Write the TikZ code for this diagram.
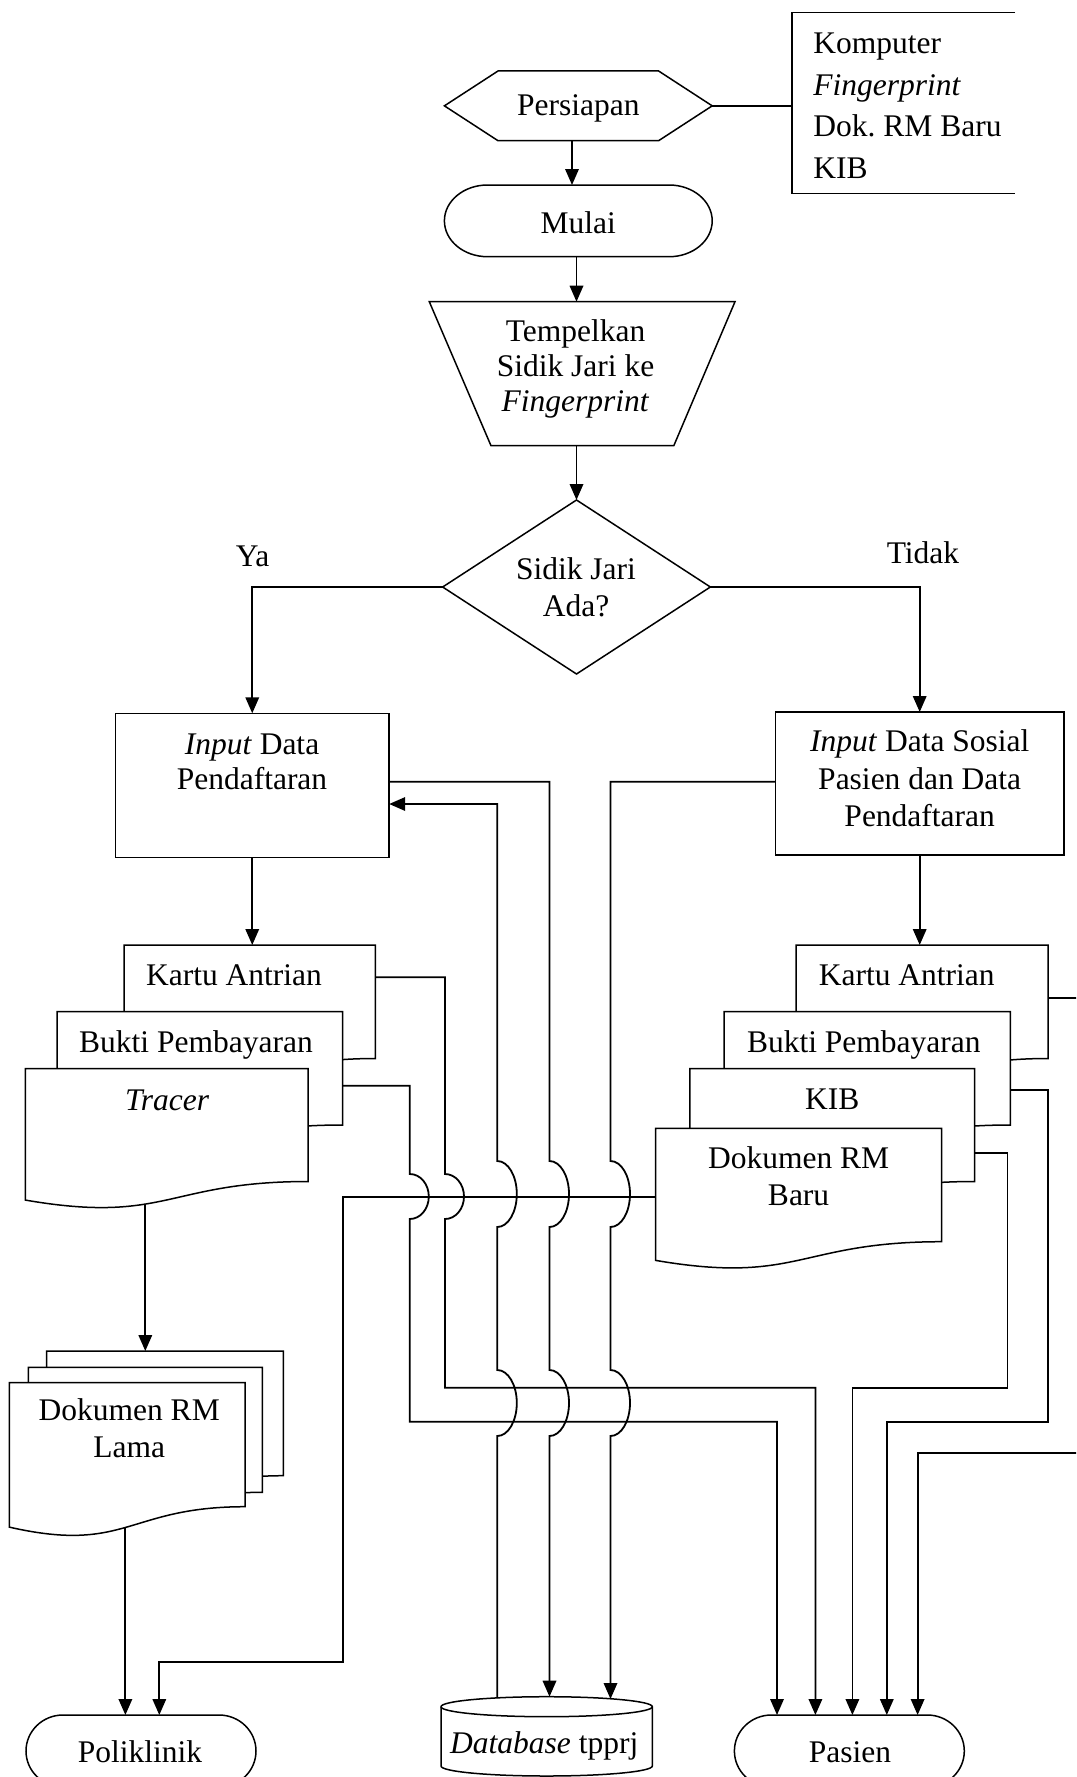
\documentclass[tikz,border=0pt]{standalone}
\usepackage{fontspec}
\setmainfont{Liberation Serif}
\usetikzlibrary{arrows.meta,calc}
\frenchspacing

\tikzset{
  area/.style 2 args={inner sep=0pt, outer sep=0pt, minimum width={#1}, minimum height={#2}},
  shp/.style={draw=black, line width=1.5pt, fill=white, line join=miter},
  link/.style={draw=black, line width=1.5pt},
  arr/.style={link, line width=1.8pt, -{Triangle[length=16pt,width=13.5pt]}},
  rarr/.style={link, line width=1.8pt, {Triangle[length=16pt,width=13.5pt]}-},
  lbl/.style={inner sep=0pt, font=\fontsize{31.5}{36}\selectfont},
  blk/.style={lbl, align=center, anchor=north},
}

% document page: name, left, top, right, bottom at the right edge, pos of the bottom exit point
\newcommand\docpage[6]{%
  \pgfmathsetmacro\dpH{(#5-#3)/0.802}%
  \pgfmathsetmacro\dpM{(#2+#4)/2}%
  \pgfmathsetmacro\dpC{-(#3+1.1075*\dpH)}%
  \pgfmathsetmacro\dpE{-(#3+0.934*\dpH)}%
  \node[area={#4-#2}{#5-#3}] (#1) at (\dpM,{-(#3+#5)/2}) {};
  \draw[shp] (#2,-#3) -- (#4,-#3) -- (#4,-#5)
    .. controls (\dpM,-#5) and (\dpM,\dpC) .. (#2,\dpE) coordinate[pos=#6] (#1-b) -- cycle;
}

% terminator: name, left, top, right, bottom
\newcommand\terminal[5]{%
  \pgfmathsetmacro\tmRx{0.1609*(#4-#2)}%
  \pgfmathsetmacro\tmRy{(#5-#3)/2}%
  \node[area={#4-#2}{#5-#3}] (#1) at ({(#2+#4)/2},{-(#3+#5)/2}) {};
  \draw[shp] ({#2+\tmRx},-#3) -- ({#4-\tmRx},-#3)
    arc[start angle=90,end angle=-90,x radius=\tmRx,y radius=\tmRy]
    -- ({#2+\tmRx},-#5)
    arc[start angle=270,end angle=90,x radius=\tmRx,y radius=\tmRy] -- cycle;
}

\begin{document}
\begin{tikzpicture}[x=1pt,y=1pt]
\useasboundingbox (0,0) rectangle (1076,-1777);
\fill[white] (0,0) rectangle (1076,-1777);
\clip (0,0) rectangle (1076,-1777);

% ---------- preparation ----------
\node[area={267.8}{69.7}] (persiapan) at (578.3,-105.85) {};
\draw[shp] (persiapan.west) -- ($(persiapan.north west)+(53.6,0)$)
  -- ($(persiapan.north east)+(-53.6,0)$) -- (persiapan.east)
  -- ($(persiapan.south east)+(-53.6,0)$) -- ($(persiapan.south west)+(53.6,0)$) -- cycle;

\node[area={223.2}{181}] (komputer) at (903.4,-102.8) {};
\draw[link, line width=1.5pt] (komputer.north east) -- (komputer.north west)
  -- (komputer.south west) -- (komputer.south east);

\terminal{mulai}{444.4}{185}{712.2}{256.7}

\node[area={305.7}{144}] (trap) at (582.15,-373.7) {};
\draw[shp] (trap.north west) -- (trap.north east)
  -- ($(trap.south east)+(-61.2,0)$) -- ($(trap.south west)+(61.7,0)$) -- cycle;

\node[area={267.7}{174}] (dia) at (576.5,-587) {};
\draw[shp] (dia.north) -- (dia.east) -- (dia.south) -- (dia.west) -- cycle;

\node[area={273.9}{144}] (leftbox) at (252.25,-785.3) {};
\draw[shp] (leftbox.north west) rectangle (leftbox.south east);
\node[area={288.2}{143}] (rightbox) at (919.7,-783.5) {};
\draw[shp] (rightbox.north west) rectangle (rightbox.south east);

% ---------- document stacks ----------
\docpage{lk}{124.2}{945}{375.4}{1058.5}{0.5}
\docpage{lb}{57}{1011.7}{342.5}{1125}{0.5}
\docpage{tracer}{25.4}{1068.7}{308.2}{1181.5}{0.6}

\docpage{rk}{796.2}{945}{1048}{1058.5}{0.5}
\docpage{rb}{724}{1011.7}{1010.3}{1125}{0.5}
\docpage{kib}{689.8}{1068.7}{974.6}{1181.5}{0.5}
\docpage{rmb}{655.5}{1128.3}{941.7}{1241.7}{0.5}

\docpage{lamaback}{46.7}{1351}{283.3}{1475.7}{0.5}
\docpage{lamamid}{28.3}{1367.3}{262.3}{1492.3}{0.5}
\docpage{lamafront}{9.3}{1382.7}{245}{1506.7}{0.51}

% ---------- end points ----------
\terminal{poli}{26}{1715}{256}{1787}
\terminal{pasien}{734.4}{1715}{964.3}{1787}

\node[area={211.3}{79.3}] (db) at (546.65,-1736.35) {};
\draw[shp] (441,-1706.7) -- (441,-1766)
  arc[start angle=180,end angle=360,x radius=105.65,y radius=10]
  -- (652.3,-1706.7)
  arc[start angle=0,end angle=180,x radius=105.65,y radius=10] -- cycle;
\draw[link, line width=1.5pt] (441,-1706.7)
  arc[start angle=180,end angle=360,x radius=105.65,y radius=10];

% ---------- main flow ----------
\draw[arr] (persiapan.south -| 572,0) -- (mulai.north -| 572,0);
\draw[link] (persiapan.east) -- (persiapan.east -| komputer.west);
\draw[arr] (mulai.south -| 576.5,0) -- (trap.north -| 576.5,0);
\draw[arr] (trap.south -| 576.5,0) -- (dia.north);
\draw[arr] (dia.west) -| (leftbox.north);
\draw[arr] (dia.east) -| (rightbox.north);
\draw[arr] (leftbox.south) -- (leftbox.south |- lk.north);
\draw[arr] (rightbox.south) -- (rightbox.south |- rk.north);

% ---------- database links ----------
\draw[arr] (leftbox.east |- 0,-781.7) -- (549.5,-781.7) -- (549.5,-1161)
  arc[start angle=90,end angle=-90,x radius=19.5,y radius=33] -- (549.5,-1370)
  arc[start angle=90,end angle=-90,x radius=19.5,y radius=33] -- (549.5,0 |- db.north);
\draw[rarr] (leftbox.east |- 0,-804) -- (497.3,-804) -- (497.3,-1161)
  arc[start angle=90,end angle=-90,x radius=19.5,y radius=33] -- (497.3,-1370)
  arc[start angle=90,end angle=-90,x radius=19.5,y radius=33] -- (497.3,-1698);
\draw[arr] (rightbox.west |- 0,-781.7) -- (610.5,-781.7) -- (610.5,-1161)
  arc[start angle=90,end angle=-90,x radius=19.5,y radius=33] -- (610.5,-1370)
  arc[start angle=90,end angle=-90,x radius=19.5,y radius=33] -- (610.5,-1699);

% ---------- to Pasien ----------
\draw[arr] (lk.east |- 0,-977.3) -- (445,-977.3) -- (445,-1174)
  arc[start angle=90,end angle=-90,x radius=19,y radius=22.5]
  -- (445,-1387.7) -- (815.4,-1387.7) -- (815.4,0 |- pasien.north);
\draw[arr] (lb.east |- 0,-1085.7) -- (409.8,-1085.7) -- (409.8,-1174)
  arc[start angle=90,end angle=-90,x radius=19,y radius=22.5]
  -- (409.8,-1421.7) -- (777,-1421.7) -- (777,0 |- pasien.north);
\draw[arr] (rk.east |- 0,-997.7) -- (1090,-997.7) -- (1090,-1453.3)
  -- (917.6,-1453.3) -- (917.6,0 |- pasien.north);
\draw[arr] (rb.east |- 0,-1090) -- (1048,-1090) -- (1048,-1421.7)
  -- (886.8,-1421.7) -- (886.8,0 |- pasien.north);
\draw[arr] (kib.east |- 0,-1152.7) -- (1007.5,-1152.7) -- (1007.5,-1387.7)
  -- (852.4,-1387.7) -- (852.4,0 |- pasien.north);

% ---------- to Poliklinik ----------
\draw[arr] (tracer-b) -- (tracer-b |- lamaback.north);
\draw[arr] (lamafront-b) -- (lamafront-b |- poli.north);
\draw[arr] (rmb.west |- 0,-1197.3) -- (342.7,-1197.3) -- (342.7,-1662.3)
  -- (159.3,-1662.3) -- (159.3,0 |- poli.north);

% ---------- texts ----------
\node[lbl, anchor=base] (t-persiapan) at (578.3,-115) {Persiapan};
\node[lbl, anchor=north west, align=left, font=\fontsize{31.5}{41.7}\selectfont]
  (t-komputer) at (813.2,-24.1)
  {\strut Komputer\\\strut\textit{Fingerprint}\\\strut Dok. RM Baru\\\strut KIB};
\node[lbl, anchor=base] (t-mulai) at (578.3,-233.3) {Mulai};
\node[blk, font=\fontsize{31.5}{35}\selectfont] (t-trap) at (575.5,-317.2)
  {\strut Tempelkan\\\strut Sidik Jari ke\\\strut\textit{Fingerprint}};
\node[blk, font=\fontsize{31.5}{37.4}\selectfont] (t-dia) at (576,-553.1)
  {\strut Sidik Jari\\\strut Ada?};
\node[lbl, anchor=base] (t-ya) at (252.6,-566.7) {Ya};
\node[lbl, anchor=base] (t-tidak) at (923,-563.3) {Tidak};
\node[blk, font=\fontsize{31.5}{35.3}\selectfont] (t-leftbox) at (252,-729.3)
  {\strut\textit{Input} Data\\\strut Pendaftaran};
\node[blk, font=\fontsize{31.5}{37.2}\selectfont] (t-rightbox) at (919.7,-725.7)
  {\strut\textit{Input} Data Sosial\\\strut Pasien dan Data\\\strut Pendaftaran};
\node[lbl, anchor=base] (t-lk) at (234,-985.7) {Kartu Antrian};
\node[lbl, anchor=base] (t-lb) at (196,-1052.7) {Bukti Pembayaran};
\node[lbl, anchor=base] (t-tracer) at (167.1,-1110) {\textit{Tracer}};
\node[lbl, anchor=base] (t-rk) at (906.7,-985.7) {Kartu Antrian};
\node[lbl, anchor=base] (t-rb) at (863.8,-1052.7) {Bukti Pembayaran};
\node[lbl, anchor=base] (t-kib) at (832.2,-1109.3) {KIB};
\node[blk, font=\fontsize{31.5}{37.4}\selectfont] (t-rmb) at (798.6,-1142.1)
  {\strut Dokumen RM\\\strut Baru};
\node[blk, font=\fontsize{31.5}{36.6}\selectfont] (t-lama) at (129.2,-1395.1)
  {\strut Dokumen RM\\\strut Lama};
\node[lbl, anchor=base] (t-poli) at (140,-1762) {Poliklinik};
\node[lbl, anchor=base] (t-db) at (544.2,-1753) {\textit{Database} tpprj};
\node[lbl, anchor=base] (t-pasien) at (850,-1762) {Pasien};
\end{tikzpicture}
\end{document}
